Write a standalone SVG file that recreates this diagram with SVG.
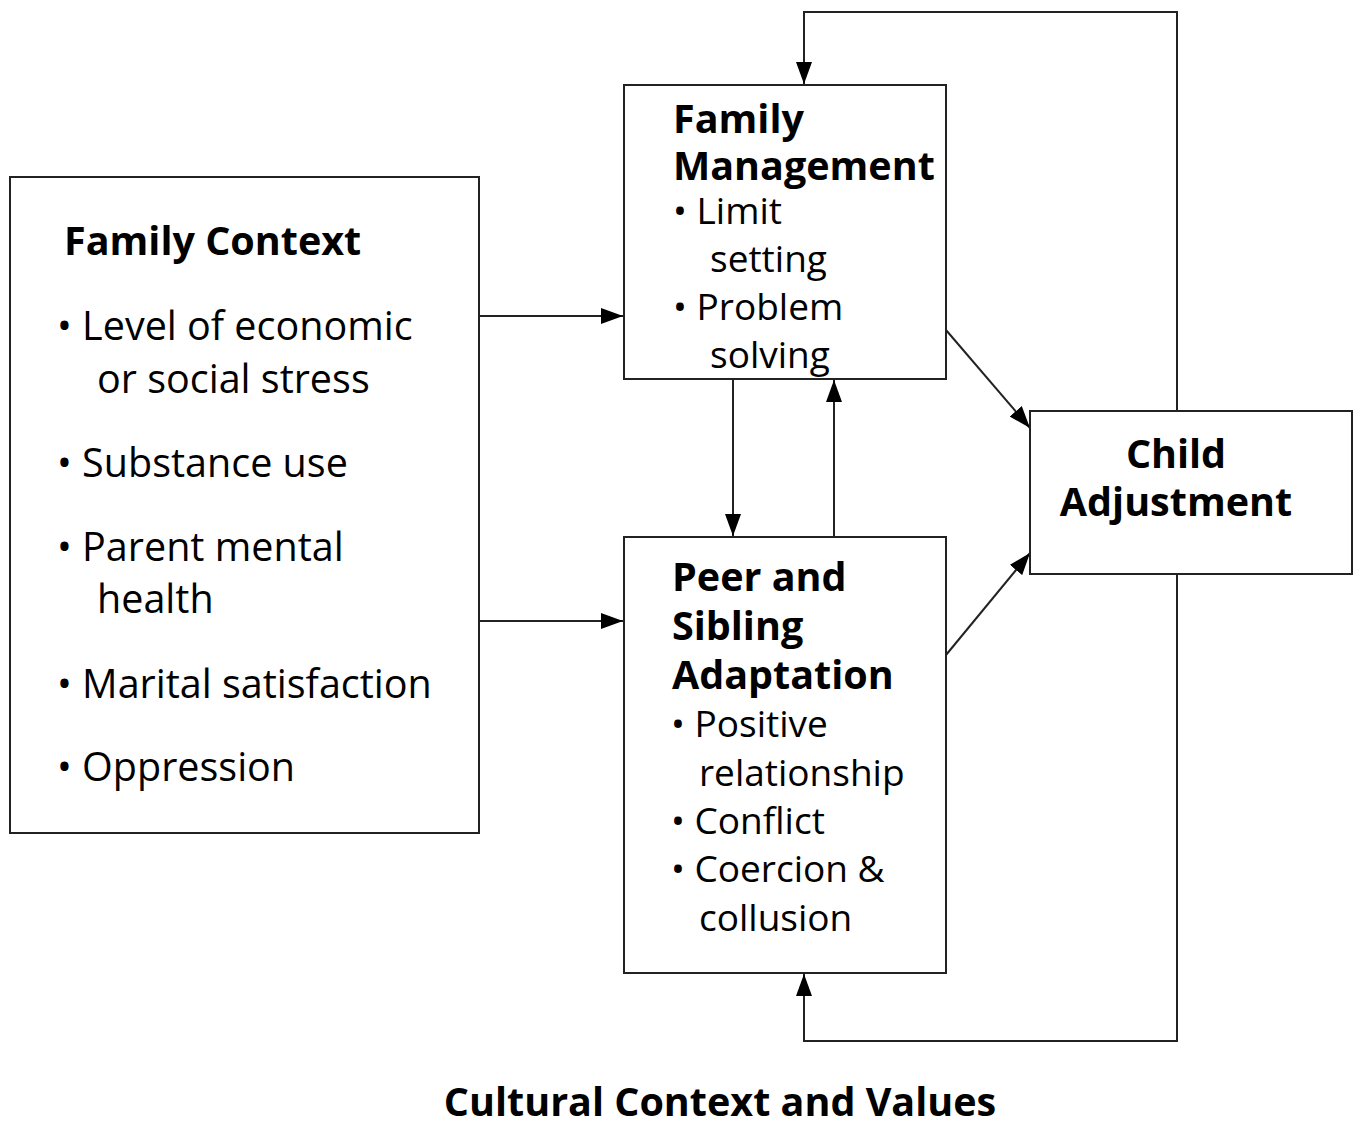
<svg xmlns="http://www.w3.org/2000/svg" width="1358" height="1127" viewBox="0 0 1358 1127">
<style>
.box{fill:#fff;stroke:#222;stroke-width:2}
.ln{fill:none;stroke:#222;stroke-width:2}
.t{font-family:"Open Sans","Liberation Sans",sans-serif;fill:#000}
.b{font-weight:bold}
.fc{font-size:39.5px}
.fcb{font-size:39.5px;font-weight:bold}
.fm{font-size:37px}
.fmb{font-size:39.5px;font-weight:bold}
</style>
<defs>
<marker id="ah2" viewBox="0 0 10 10" refX="10" refY="5" markerWidth="22" markerHeight="16" markerUnits="userSpaceOnUse" orient="auto" preserveAspectRatio="none"><path d="M0,0 L10,5 L0,10 Z" fill="#000"/></marker>
</defs>
<rect width="1358" height="1127" fill="#fff"/>
<g id="connectors">
<path class="ln" d="M1177,411 V12 H804 V84" marker-end="url(#ah2)"/>
<path class="ln" d="M1177,574 V1041 H804 V974" marker-end="url(#ah2)"/>
<path class="ln" d="M479,316 H623" marker-end="url(#ah2)"/>
<path class="ln" d="M479,621 H623" marker-end="url(#ah2)"/>
<path class="ln" d="M733,379 V536" marker-end="url(#ah2)" stroke="#555"/>
<path class="ln" d="M834,537 V380" marker-end="url(#ah2)" stroke="#555"/>
<path class="ln" d="M946,330 L1030,428" marker-end="url(#ah2)"/>
<path class="ln" d="M946,655 L1030,553" marker-end="url(#ah2)"/>
</g>
<g id="family-context">
<rect class="box" x="10" y="177" width="469" height="656"/>
<text class="t fcb" x="64" y="255">Family Context</text>
<text class="t fc" x="57" y="340">• Level of economic</text>
<text class="t fc" x="97" y="393">or social stress</text>
<text class="t fc" x="57" y="477">• Substance use</text>
<text class="t fc" x="57" y="561">• Parent mental</text>
<text class="t fc" x="97" y="613">health</text>
<text class="t fc" x="57" y="698">• Marital satisfaction</text>
<text class="t fc" x="57" y="781">• Oppression</text>
</g>
<g id="family-management">
<rect class="box" x="624" y="85" width="322" height="294"/>
<text class="t fmb" x="673" y="133">Family</text>
<text class="t fmb" x="673" y="180">Management</text>
<text class="t fm" x="673" y="224">•  Limit</text>
<text class="t fm" x="710" y="272">setting</text>
<text class="t fm" x="673" y="320">• Problem</text>
<text class="t fm" x="710" y="368">solving</text>
</g>
<g id="peer-sibling">
<rect class="box" x="624" y="537" width="322" height="436"/>
<text class="t fmb" x="672" y="591">Peer and</text>
<text class="t fmb" x="672" y="640">Sibling</text>
<text class="t fmb" x="672" y="689">Adaptation</text>
<text class="t fm" x="671" y="737">• Positive</text>
<text class="t fm" x="699" y="786">relationship</text>
<text class="t fm" x="671" y="834">• Conflict</text>
<text class="t fm" x="671" y="882">• Coercion &amp;</text>
<text class="t fm" x="699" y="931">collusion</text>
</g>
<g id="child-adjustment">
<rect class="box" x="1030" y="411" width="322" height="163"/>
<text class="t fmb" x="1176" y="468" text-anchor="middle">Child</text>
<text class="t fmb" x="1176" y="516" text-anchor="middle">Adjustment</text>
</g>
<g id="caption">
<text class="t fmb" x="720" y="1116" text-anchor="middle">Cultural Context and Values</text>
</g>
</svg>
